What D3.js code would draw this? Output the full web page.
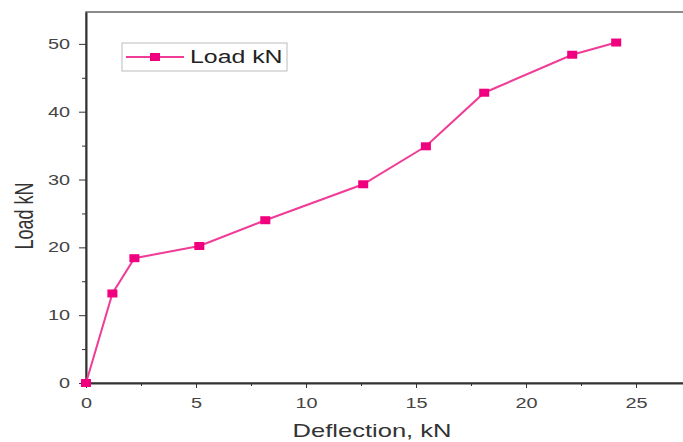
<!DOCTYPE html>
<meta charset="utf-8">
<style>
body { margin: 0; background: #fff; }
svg { font-family: Arial, "Liberation Sans", sans-serif; }
.axis path, .axis line { stroke: #333; }
.axis text { fill: #444; font-size: 14px; }
</style>
<svg width="683" height="442"></svg>
<script src="https://cdn.jsdelivr.net/npm/d3@7"></script>
<script>
var deflection = [0, 1.2, 2.2, 5.15, 8.15, 12.6, 15.45, 18.1, 22.1, 24.1];
var load = [0, 13.2, 18.4, 20.2, 24.0, 29.3, 34.9, 42.8, 48.4, 50.2];
var xTicks = [0, 5, 10, 15, 20, 25];
var yTicks = [0, 10, 20, 30, 40, 50];
var seriesName = "Load kN";

var svg = d3.select("svg"),
    margin = {top: 12, left: 86},
    plotW = 620, plotH = 371,
    stretch = 1.42; // source image is squeezed wide

var x = d3.scaleLinear().domain([0, 620 / 22.0]).range([0, plotW]),
    y = d3.scaleLinear().domain([0, 54.7]).range([plotH, 0]);

var g = svg.append("g")
    .attr("transform", "translate(" + margin.left + "," + margin.top + ")");

// frame (right side falls outside the window)
g.append("rect")
    .attr("x", 0).attr("y", 0)
    .attr("width", plotW).attr("height", plotH)
    .attr("fill", "none").attr("stroke", "#666").attr("stroke-width", 1.5);

// minor ticks
g.append("g").attr("class", "axis")
    .attr("transform", "translate(0," + plotH + ")")
    .call(d3.axisBottom(x).tickValues([2.5, 7.5, 12.5, 17.5, 22.5]).tickSize(3).tickFormat(""))
    .call(function(a) { a.select(".domain").remove(); });
g.append("g").attr("class", "axis")
    .call(d3.axisLeft(y).tickValues([5, 15, 25, 35, 45]).tickSize(4).tickFormat(""))
    .call(function(a) { a.select(".domain").remove(); });

var xAxis = g.append("g").attr("class", "axis")
    .attr("transform", "translate(0," + plotH + ")")
    .call(d3.axisBottom(x).tickValues(xTicks).tickSize(5).tickSizeOuter(0).tickPadding(10));
var yAxis = g.append("g").attr("class", "axis")
    .call(d3.axisLeft(y).tickValues(yTicks).tickSize(7).tickSizeOuter(0));
xAxis.select(".domain").attr("stroke-width", 2);
yAxis.select(".domain").attr("stroke-width", 2);
xAxis.selectAll("text").attr("transform", "scale(" + stretch + ",1)");
yAxis.selectAll("text").attr("x", 0)
    .attr("transform", "translate(-16,0) scale(" + stretch + ",1)");

var pts = deflection.map(function(d, i) { return [d, load[i]]; });

g.append("path")
    .datum(pts)
    .attr("fill", "none")
    .attr("stroke", "#f03c96")
    .attr("stroke-width", 2)
    .attr("d", d3.line().x(function(d) { return x(d[0]); }).y(function(d) { return y(d[1]); }));

g.selectAll("rect.pt")
    .data(pts)
    .enter().append("rect")
    .attr("class", "pt")
    .attr("x", function(d) { return x(d[0]) - 5; })
    .attr("y", function(d) { return y(d[1]) - 4; })
    .attr("width", 10).attr("height", 8)
    .attr("fill", "#f0007e");

// legend
var lg = svg.append("g").attr("transform", "translate(122,43)");
lg.append("rect").attr("width", 165).attr("height", 28)
    .attr("fill", "#fff").attr("stroke", "#bbb");
lg.append("line").attr("x1", 4).attr("x2", 62).attr("y1", 14).attr("y2", 14)
    .attr("stroke", "#f03c96").attr("stroke-width", 2);
lg.append("rect").attr("x", 28).attr("y", 10).attr("width", 10).attr("height", 8)
    .attr("fill", "#f0007e");
lg.append("text")
    .attr("transform", "translate(68,20) scale(" + stretch + ",1)")
    .attr("font-size", 17.5).attr("fill", "#222").text(seriesName);

// axis titles
svg.append("text")
    .attr("transform", "translate(372,437) scale(" + stretch + ",1)")
    .attr("text-anchor", "middle").attr("font-size", 18).attr("fill", "#333")
    .text("Deflection, kN");
svg.append("text")
    .attr("transform", "translate(33,216) rotate(-90) scale(1," + stretch + ")")
    .attr("text-anchor", "middle").attr("font-size", 18).attr("fill", "#333")
    .text("Load kN");
</script>
